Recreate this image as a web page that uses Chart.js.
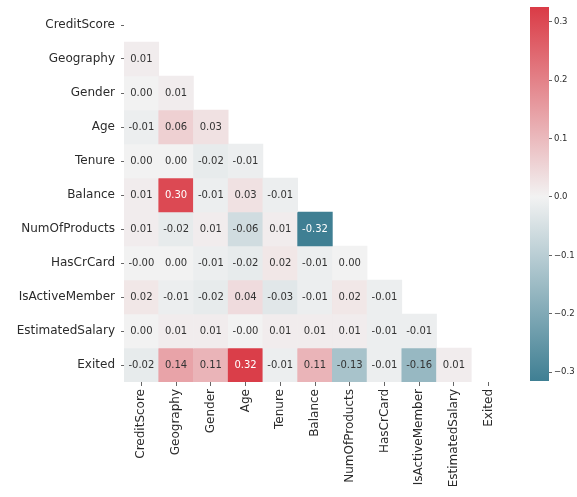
<!DOCTYPE html>
<html>
<head>
<meta charset="utf-8">
<script src="https://cdn.jsdelivr.net/npm/chart.js@4/dist/chart.umd.min.js"></script>
<style>
  html, body { margin: 0; padding: 0; background: #fff; }
  #wrap { position: relative; width: 577px; height: 497px; }
  canvas { position: absolute; top: 0; }
  #heat { left: 0; }
  #cbar { left: 520px; }
</style>
</head>
<body>
<div id="wrap">
  <canvas id="heat" width="577" height="497"></canvas>
  <canvas id="cbar" width="57" height="497"></canvas>
</div>
<script>
// Feature names (rows and columns of the correlation matrix)
const variables = ['CreditScore', 'Geography', 'Gender', 'Age', 'Tenure', 'Balance',
  'NumOfProducts', 'HasCrCard', 'IsActiveMember', 'EstimatedSalary', 'Exited'];

// Lower-triangle correlations, one array per row (columns left to right)
const corrCreditScore = [];
const corrGeography = [0.01];
const corrGender = [0.00, 0.01];
const corrAge = [-0.01, 0.06, 0.03];
const corrTenure = [0.00, 0.00, -0.02, -0.01];
const corrBalance = [0.01, 0.30, -0.01, 0.03, -0.01];
const corrNumOfProducts = [0.01, -0.02, 0.01, -0.06, 0.01, -0.32];
const corrHasCrCard = [-0.00, 0.00, -0.01, -0.02, 0.02, -0.01, 0.00];
const corrIsActiveMember = [0.02, -0.01, -0.02, 0.04, -0.03, -0.01, 0.02, -0.01];
const corrEstimatedSalary = [0.00, 0.01, 0.01, -0.00, 0.01, 0.01, 0.01, -0.01, -0.01];
const corrExited = [-0.02, 0.14, 0.11, 0.32, -0.01, 0.11, -0.13, -0.01, -0.16, 0.01];

// Colour scale limits and colour bar tick values
const colorMin = -0.315;
const colorMax = 0.325;
const colorbarTicks = [-0.3, -0.2, -0.1, 0.0, 0.1, 0.2, 0.3];

const lowerRows = [corrCreditScore, corrGeography, corrGender, corrAge, corrTenure, corrBalance,
  corrNumOfProducts, corrHasCrCard, corrIsActiveMember, corrEstimatedSalary, corrExited];

// Diverging palette: teal -> light gray -> red
const NEG = [63, 127, 147], MID = [242, 242, 242], POS = [218, 59, 70];
const zeroPos = (0 - colorMin) / (colorMax - colorMin);
const rgbStr = c => `rgb(${c.map(Math.round).join(',')})`;
function mixColor(v) {
  let t = (v - colorMin) / (colorMax - colorMin);
  t = Math.max(0, Math.min(1, t));
  let a, b, u;
  if (t < zeroPos) { a = NEG; b = MID; u = t / zeroPos; }
  else { a = MID; b = POS; u = (t - zeroPos) / (1 - zeroPos); }
  return a.map((x, i) => x + (b[i] - x) * u);
}
function luminance(c) {
  const lin = c.map(x => { x /= 255; return x <= 0.03928 ? x / 12.92 : Math.pow((x + 0.055) / 1.055, 2.4); });
  return 0.2126 * lin[0] + 0.7152 * lin[1] + 0.0722 * lin[2];
}
const fmt = v => ((v < 0 || Object.is(v, -0)) ? '-' : '') + Math.abs(v).toFixed(2);

const FONT = 'DejaVu Sans';
const TEXT = '#2b2b2b';

const datasets = lowerRows.map((vals, r) => ({
  label: variables[r],
  values: vals,
  data: variables.map((_, c) => c < vals.length ? [r, r + 1] : null),
  backgroundColor: variables.map((_, c) => c < vals.length ? rgbStr(mixColor(vals[c])) : 'rgba(0,0,0,0)'),
  borderWidth: 0,
  barPercentage: 1,
  categoryPercentage: 1,
  grouped: false
}));

// Writes each cell's value on top of its bar
const cellLabels = {
  id: 'cellLabels',
  afterDatasetsDraw(chart) {
    const ctx = chart.ctx;
    ctx.save();
    ctx.font = `10px "${FONT}"`;
    ctx.textAlign = 'center';
    ctx.textBaseline = 'middle';
    chart.data.datasets.forEach((ds, di) => {
      const meta = chart.getDatasetMeta(di);
      ds.values.forEach((v, c) => {
        const el = meta.data[c];
        if (!el) return;
        const p = el.getCenterPoint();
        const col = mixColor(v);
        ctx.fillStyle = luminance(col) > 0.408 ? '#333333' : '#ffffff';
        ctx.fillText(fmt(v), p.x, p.y + 0.5);
      });
    });
    ctx.restore();
  }
};

new Chart(document.getElementById('heat'), {
  type: 'bar',
  data: { labels: variables, datasets },
  plugins: [cellLabels],
  options: {
    responsive: false,
    animation: false,
    layout: { padding: { top: 8, right: 71, left: 0, bottom: 0 } },
    plugins: { legend: { display: false }, tooltip: { enabled: false } },
    scales: {
      x: {
        type: 'category',
        offset: true,
        border: { display: false },
        grid: { display: true, drawOnChartArea: false, drawTicks: true, tickLength: 4, tickColor: '#666', offset: false },
        ticks: { autoSkip: false, maxRotation: 90, minRotation: 90, padding: 3, color: TEXT, font: { family: FONT, size: 12 } },
        afterFit(s) { s.height = 115; s.paddingLeft = 0; s.paddingRight = 0; }
      },
      y: {
        type: 'linear',
        min: 0,
        max: variables.length,
        reverse: true,
        border: { display: false },
        grid: { display: true, drawOnChartArea: false, drawTicks: true, tickLength: 3, tickColor: '#666' },
        afterBuildTicks(s) { s.ticks = variables.map((_, i) => ({ value: i + 0.5 })); },
        ticks: { autoSkip: false, padding: 6, color: TEXT, font: { family: FONT, size: 12 },
          callback: (v, i) => variables[i] },
        afterFit(s) { s.width = 124; s.paddingTop = 0; s.paddingBottom = 0; }
      }
    }
  }
});

// Colour bar
new Chart(document.getElementById('cbar'), {
  type: 'bar',
  data: {
    labels: [''],
    datasets: [{
      data: [[colorMin, colorMax]],
      borderWidth: 0,
      barPercentage: 1,
      categoryPercentage: 1,
      backgroundColor(ctx) {
        const chart = ctx.chart;
        if (!chart.chartArea) return 'rgba(0,0,0,0)';
        const y = chart.scales.y;
        const g = chart.ctx.createLinearGradient(0, y.getPixelForValue(colorMin), 0, y.getPixelForValue(colorMax));
        g.addColorStop(0, rgbStr(NEG));
        g.addColorStop(zeroPos, rgbStr(MID));
        g.addColorStop(1, rgbStr(POS));
        return g;
      }
    }]
  },
  options: {
    responsive: false,
    animation: false,
    layout: { padding: { left: 10, top: 7, bottom: 116, right: 0 } },
    plugins: { legend: { display: false }, tooltip: { enabled: false } },
    scales: {
      x: { display: false },
      y: {
        position: 'right',
        min: colorMin,
        max: colorMax,
        border: { display: false },
        grid: { display: true, drawOnChartArea: false, drawTicks: true, tickLength: 3, tickColor: '#666' },
        afterBuildTicks(s) { s.ticks = colorbarTicks.map(v => ({ value: v })); },
        ticks: { padding: 2, color: TEXT, font: { family: FONT, size: 8.5 },
          callback: v => (v < -1e-9 ? '\u2212' : '') + Math.abs(v).toFixed(1) },
        afterFit(s) { s.width = 28; s.paddingTop = 0; s.paddingBottom = 0; }
      }
    }
  }
});
</script>
</body>
</html>
